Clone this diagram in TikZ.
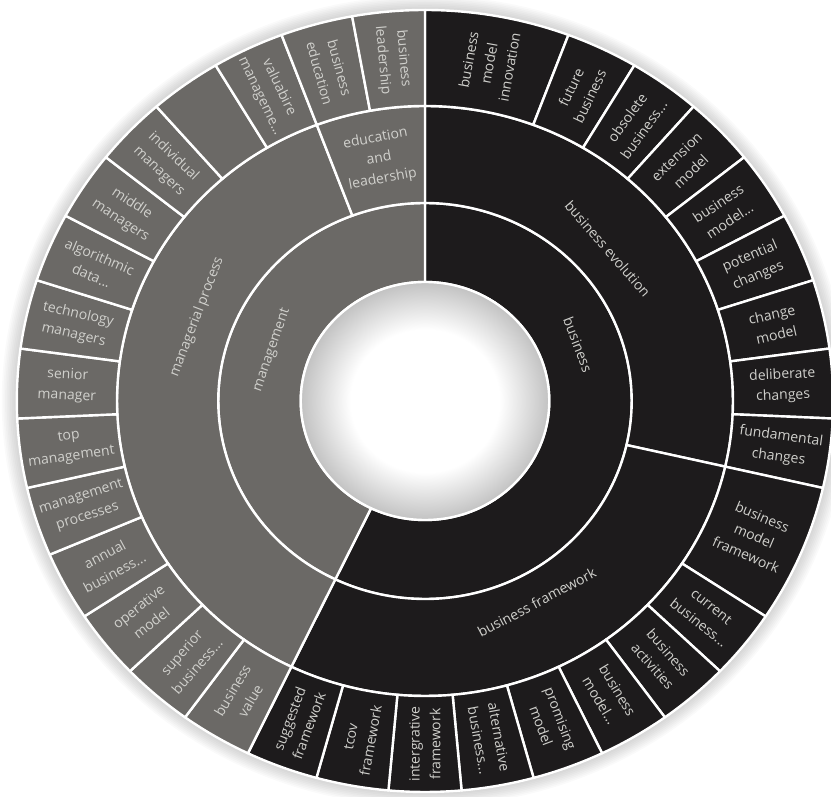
\documentclass[tikz,border=0pt]{standalone}
\usepackage{fontspec}
\setmainfont{Open Sans}

\definecolor{bizblack}{RGB}{29,27,28}
\definecolor{mgmtgray}{RGB}{107,105,102}
\definecolor{labelgray}{RGB}{208,208,204}

\pgfdeclareradialshading{holeshade}{\pgfpoint{0bp}{0bp}}{%
  color(0bp)=(white); color(15bp)=(white); color(25bp)=(black!24); color(50bp)=(black!24)}

\tikzset{
  ringpiece/.style={draw=white, line width=1.8pt, line join=round},
  seglabel/.style={text=labelgray, align=center, inner sep=0pt,
    font=\fontsize{10.5}{15.5}\selectfont},
}

% one piece of a ring: units #1..#2 (35 units make the full turn), radii #3..#4
\newcommand{\sunwedge}[5]{%
  \pgfmathsetmacro\wa{90-#1*360/35}%
  \pgfmathsetmacro\wb{90-#2*360/35}%
  \fill[#5, ringpiece] (\wa:#3) arc[start angle=\wa, end angle=\wb, radius=#3]
    -- (\wb:#4) arc[start angle=\wb, end angle=\wa, radius=#4] -- cycle;
}
% label of an outer piece, turned along the radius
\newcommand{\outerlabel}[4]{%
  \pgfmathsetmacro\wm{(#1+#2)/2*360/35}%
  \pgfmathsetmacro\wp{90-\wm}%
  \pgfmathsetmacro\wr{\wm<179.9 ? 90-\wm : 270-\wm}%
  \node[seglabel, rotate=\wr] (#3) at (\wp:343) {#4};
}

\begin{document}
\begin{tikzpicture}[x=0.75pt, y=0.75pt]
  \useasboundingbox (0,0) rectangle (831,796);
  \begin{scope}[shift={(425,395)}, xscale=1.044]

    % soft shadow round the chart
    \foreach \k in {1,...,9}
      \fill[black, opacity=0.02] (0,0) circle[radius=391+\k*1.6];

    % inner ring
    \sunwedge{0}{20}{119}{198}{bizblack}
    \sunwedge{20}{35}{119}{198}{mgmtgray}

    % middle ring
    \sunwedge{0}{10}{198}{295}{bizblack}
    \sunwedge{10}{20}{198}{295}{bizblack}
    \sunwedge{20}{33}{198}{295}{mgmtgray}
    \sunwedge{33}{35}{198}{295}{mgmtgray}

    % outer ring, business side
    \foreach \s/\e/\t [count=\n] in {
        0/2/{business\\model\\innovation}, 2/3/{future\\business},
        3/4/{obsolete\\business...}, 4/5/{extension\\model},
        5/6/{business\\model...}, 6/7/{potential\\changes},
        7/8/{change\\model}, 8/9/{deliberate\\changes},
        9/10/{fundamental\\changes}, 10/12/{business\\model\\framework},
        12/13/{current\\business...}, 13/14/{business\\activities},
        14/15/{business\\model...}, 15/16/{promising\\model},
        16/17/{alternative\\business...}, 17/18/{intergrative\\framework},
        18/19/{tcov\\framework}, 19/20/{suggested\\framework}} {
      \sunwedge{\s}{\e}{295}{391}{bizblack}
      \outerlabel{\s}{\e}{biz_\n}{\t}
    }

    % outer ring, management side
    \foreach \s/\e/\t [count=\n] in {
        20/21/{business\\value}, 21/22/{superior\\business...},
        22/23/{operative\\model}, 23/24/{annual\\business...},
        24/25/{management\\processes}, 25/26/{top\\management},
        26/27/{senior\\manager}, 27/28/{technology\\managers},
        28/29/{algorithmic\\data...}, 29/30/{middle\\managers},
        30/31/{individual\\managers}, 31/32/{},
        32/33/{valuabire\\manageme...}, 33/34/{business\\education},
        34/35/{business\\leadership}} {
      \sunwedge{\s}{\e}{295}{391}{mgmtgray}
      \outerlabel{\s}{\e}{mgmt_\n}{\t}
    }

    % hole in the middle
    \shade[shading=holeshade] (0,0) circle[radius=119];
    \draw[white, line width=1.8pt] (0,0) circle[radius=119];

    % labels of the inner and middle rings
    \node[seglabel, rotate=-69] (lbl_business) at (21:157) {business};
    \node[seglabel, rotate=70.8] (lbl_management) at (160.8:155) {management};
    \node[seglabel, rotate=-49] (lbl_evolution) at (41:232) {business evolution};
    \node[seglabel, rotate=28] (lbl_framework) at (-62:228) {business framework};
    \node[seglabel, rotate=69] (lbl_process) at (159:234) {managerial process};
    \node[seglabel, rotate=10.3] (lbl_education) at (100.3:246) {education\\and\\leadership};

  \end{scope}
\end{tikzpicture}
\end{document}
